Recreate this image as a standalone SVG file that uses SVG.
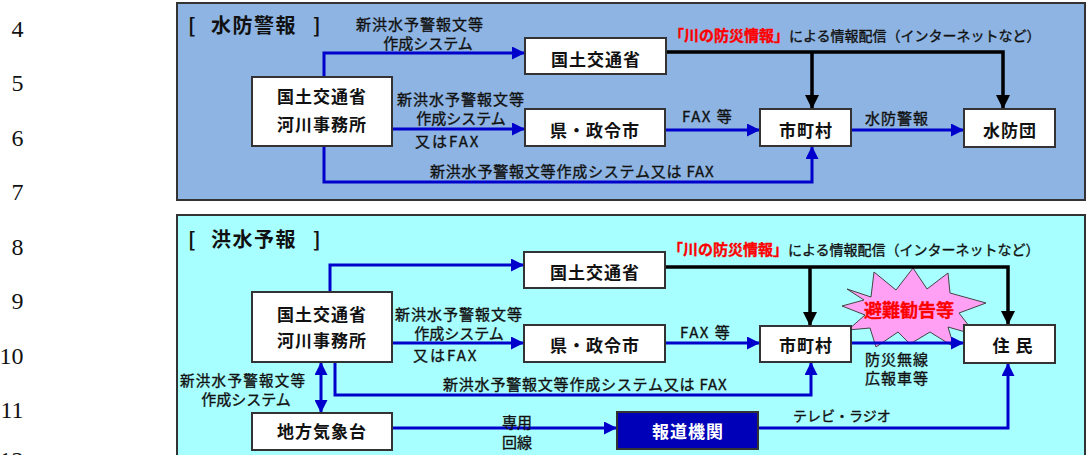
<svg xmlns="http://www.w3.org/2000/svg" width="1087" height="455" viewBox="0 0 1087 455">
<style>
.num{font-family:"Liberation Serif","DejaVu Serif",serif;font-size:24px;fill:#111;text-anchor:end}
.jp{font-family:"Noto Sans CJK JP","Noto Sans CJK SC",sans-serif}
.title{font-size:20px;font-weight:bold;fill:#111}
.nt{font-size:17px;font-weight:bold;fill:#111;text-anchor:middle;letter-spacing:1px}
.lbl{font-size:15px;fill:#111;stroke:#111;stroke-width:0.35}
.mid{text-anchor:middle}
.red{fill:#FF0000;stroke:#FF0000;font-weight:bold}
.node{fill:#fff;stroke:#333;stroke-width:2}
.blue{fill:none;stroke:#0000CC;stroke-width:3}
.black{fill:none;stroke:#000;stroke-width:3.5}
</style>
<defs>
<marker id="ab" markerUnits="userSpaceOnUse" markerWidth="13" markerHeight="13" refX="13" refY="6.5" orient="auto-start-reverse"><path d="M0,0 L13,6.5 L0,13 z" fill="#0000CC"/></marker>
<marker id="ak" markerUnits="userSpaceOnUse" markerWidth="14" markerHeight="14" refX="14" refY="7" orient="auto"><path d="M0,0 L14,7 L0,14 z" fill="#000"/></marker>
</defs>
<rect width="1087" height="455" fill="#fff"/>
<g id="line-numbers">
<text class="num" x="23.5" y="36.5">4</text>
<text class="num" x="23.5" y="91">5</text>
<text class="num" x="23.5" y="145.5">6</text>
<text class="num" x="23.5" y="200">7</text>
<text class="num" x="23.5" y="254.5">8</text>
<text class="num" x="23.5" y="309">9</text>
<text class="num" x="23.5" y="363.5">10</text>
<text class="num" x="23.5" y="418">11</text>
<text class="num" x="23.5" y="468">12</text>
</g>
<g id="panel-suibo">
<rect x="177" y="3" width="908" height="197" fill="#8DB4E2" stroke="#333" stroke-width="2"/>
<text class="jp title" y="33"><tspan x="188">[</tspan><tspan x="211" letter-spacing="1.5">水防警報</tspan><tspan x="313">]</tspan></text>
</g>
<g id="panel-kouzui">
<rect x="177" y="215" width="908" height="250" fill="#A8FFFF" stroke="#333" stroke-width="2"/>
<text class="jp title" y="247"><tspan x="188">[</tspan><tspan x="211" letter-spacing="1.5">洪水予報</tspan><tspan x="313">]</tspan></text>
</g>
<g id="burst">
<polygon points="847,289 871,297 874,272 896,290 913,268 927,289 948,273 950,293 986,303 959,313 976,335 948,327 954,347 930,332 910,344 898,332 876,347 870,328 848,330 865,315 842,306 864,300" fill="#FFA0F5" stroke="#444" stroke-width="1"/>
<text class="jp red mid" x="909" y="317" font-size="18" stroke-width="0.3">避難勧告等</text>
</g>
<g id="connectors">
<path class="blue" d="M324,77 V53 H525" marker-end="url(#ab)"/>
<path class="blue" d="M392,129 H525" marker-end="url(#ab)"/>
<path class="blue" d="M324,146 V182 H812 V146" marker-end="url(#ab)"/>
<path class="blue" d="M665,130 H760" marker-end="url(#ab)"/>
<path class="blue" d="M851,130 H964" marker-end="url(#ab)"/>
<path class="black" d="M666,52 H1003 V109" marker-end="url(#ak)"/>
<path class="black" d="M812,52 V109" marker-end="url(#ak)"/>
<path class="blue" d="M330,292 V265 H524" marker-end="url(#ab)"/>
<path class="blue" d="M392,343 H524" marker-end="url(#ab)"/>
<path class="blue" d="M335,362 V395 H811 V362" marker-end="url(#ab)"/>
<path class="blue" d="M321,362 V413" marker-start="url(#ab)" marker-end="url(#ab)"/>
<path class="blue" d="M392,428 H617" marker-end="url(#ab)"/>
<path class="blue" d="M758,428 H1008 V363" marker-end="url(#ab)"/>
<path class="blue" d="M665,343 H760" marker-end="url(#ab)"/>
<path class="blue" d="M851,343 H964" marker-end="url(#ab)"/>
<path class="black" d="M665,267 H1008 V325" marker-end="url(#ak)"/>
<path class="black" d="M810,267 V326" marker-end="url(#ak)"/>
<g class="jp lbl">
<text class="mid" x="420" y="30" letter-spacing="1">新洪水予警報文等</text>
<text class="mid" x="428" y="49">作成システム</text>
<text x="397" y="105" letter-spacing="1">新洪水予警報文等</text>
<text class="mid" x="461" y="124">作成システム</text>
<text x="415" y="147" letter-spacing="2">又はFAX</text>
<text x="430" y="176.5" letter-spacing="0.8">新洪水予警報文等作成システム又は FAX</text>
<text x="682" y="122" letter-spacing="1.5">FAX 等</text>
<text x="865" y="124" letter-spacing="1">水防警報</text>
<text x="669" y="41" font-size="14"><tspan class="red" font-size="15">「川の防災情報」</tspan>による情報配信（インターネットなど）</text>
<text x="395" y="320" letter-spacing="1">新洪水予警報文等</text>
<text class="mid" x="459" y="339">作成システム</text>
<text x="413" y="361" letter-spacing="2">又はFAX</text>
<text x="443" y="390" letter-spacing="0.8">新洪水予警報文等作成システム又は FAX</text>
<text x="180" y="386" font-size="14.5" letter-spacing="1.3">新洪水予警報文等</text>
<text class="mid" x="246" y="405">作成システム</text>
<text x="502" y="428">専用</text>
<text x="502" y="448">回線</text>
<text x="680" y="338" letter-spacing="1.5">FAX 等</text>
<text x="865" y="365" letter-spacing="1">防災無線</text>
<text x="865" y="384" letter-spacing="1">広報車等</text>
<text x="793" y="421" font-size="14">テレビ・ラジオ</text>
<text x="668" y="255" font-size="14"><tspan class="red" font-size="15">「川の防災情報」</tspan>による情報配信（インターネットなど）</text>
</g>
</g>
<g id="n-kasen-top"><rect class="node" x="252" y="77" width="140" height="69"/><text class="jp nt" x="322" y="103">国土交通省</text><text class="jp nt" x="322" y="131">河川事務所</text></g>
<g id="n-mlit-top"><rect class="node" x="525" y="38" width="141" height="36"/><text class="jp nt" x="596" y="66">国土交通省</text></g>
<g id="n-ken-top"><rect class="node" x="525" y="109" width="140" height="37"/><text class="jp nt" x="595" y="136.5" letter-spacing="0">県・政令市</text></g>
<g id="n-city-top"><rect class="node" x="760" y="109" width="91" height="37"/><text class="jp nt" x="806" y="136.5">市町村</text></g>
<g id="n-suibodan"><rect class="node" x="964" y="109" width="91" height="38"/><text class="jp nt" x="1010" y="137">水防団</text></g>
<g id="n-kasen-bot"><rect class="node" x="252" y="292" width="140" height="70"/><text class="jp nt" x="322" y="321">国土交通省</text><text class="jp nt" x="322" y="347">河川事務所</text></g>
<g id="n-mlit-bot"><rect class="node" x="524" y="252" width="141" height="36"/><text class="jp nt" x="595" y="278.5">国土交通省</text></g>
<g id="n-ken-bot"><rect class="node" x="524" y="325" width="141" height="37"/><text class="jp nt" x="595" y="352" letter-spacing="0">県・政令市</text></g>
<g id="n-city-bot"><rect class="node" x="760" y="326" width="91" height="36"/><text class="jp nt" x="806" y="352">市町村</text></g>
<g id="n-jumin"><rect class="node" x="964" y="325" width="91" height="38"/><text class="jp nt" x="1013" y="352" letter-spacing="6">住 民</text></g>
<g id="n-kishodai"><rect class="node" x="252" y="413" width="140" height="37"/><text class="jp nt" x="322" y="438">地方気象台</text></g>
<g id="n-houdou"><rect x="617" y="412" width="141" height="37" fill="#0000B8" stroke="#333" stroke-width="2"/><text class="jp nt" x="688" y="438" style="fill:#fff">報道機関</text></g>
</svg>
